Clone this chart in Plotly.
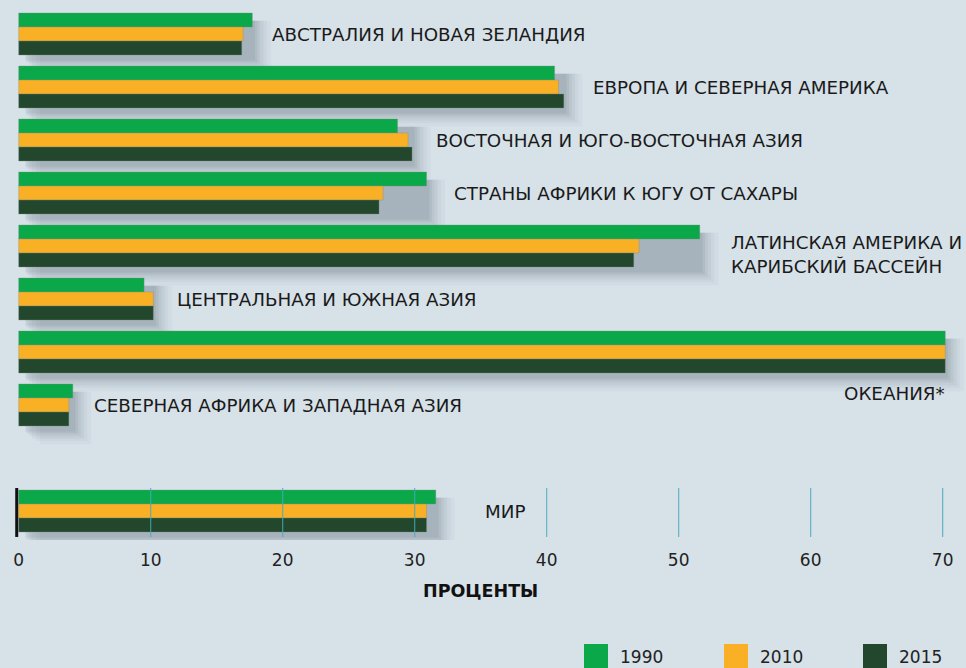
import plotly.graph_objects as go

regions = [
    "АВСТРАЛИЯ И НОВАЯ ЗЕЛАНДИЯ",
    "ЕВРОПА И СЕВЕРНАЯ АМЕРИКА",
    "ВОСТОЧНАЯ И ЮГО-ВОСТОЧНАЯ АЗИЯ",
    "СТРАНЫ АФРИКИ К ЮГУ ОТ САХАРЫ",
    "ЛАТИНСКАЯ АМЕРИКА И<br>КАРИБСКИЙ БАССЕЙН",
    "ЦЕНТРАЛЬНАЯ И ЮЖНАЯ АЗИЯ",
    "ОКЕАНИЯ*",
    "СЕВЕРНАЯ АФРИКА И ЗАПАДНАЯ АЗИЯ",
    "МИР",
]
v1990 = [17.7, 40.6, 28.7, 30.9, 51.6, 9.5, 70.2, 4.1, 31.6]
v2010 = [17.0, 40.9, 29.5, 27.6, 47.0, 10.2, 70.2, 3.8, 30.9]
v2015 = [16.9, 41.3, 29.8, 27.3, 46.6, 10.2, 70.2, 3.8, 30.9]
years = ["1990", "2010", "2015"]
tick_vals = [0, 10, 20, 30, 40, 50, 60, 70]
axis_title = "ПРОЦЕНТЫ"

colors = ["#0ba84a", "#f9b024", "#22472d"]
BG = "#d6e1e8"
FONT = "DejaVu Sans"

# layout positions: 8 regions, then a gap, then world
pos = list(range(len(regions) - 1)) + [len(regions)]
gmax = [max(a, b, c) for a, b, c in zip(v1990, v2010, v2015)]

fig = go.Figure()

# soft drop shadows under each group (stacked translucent layers)
shadow_layers = [(1.4, 1.6, 0.74, 0.03), (1.1, 1.3, 0.68, 0.04), (0.85, 1.0, 0.63, 0.05),
                 (0.6, 0.8, 0.58, 0.06), (0.4, 0.6, 0.54, 0.07), (0.2, 0.5, 0.50, 0.07)]
for dx, x0, extra, a in shadow_layers:
    fig.add_trace(go.Bar(
        y=pos, x=[m + dx - x0 for m in gmax], orientation="h",
        base=x0, offset=-0.25, width=0.25 + extra,
        marker=dict(color=f"rgba(60,70,85,{a})", line=dict(width=0)),
        showlegend=False, hoverinfo="skip"))

offsets = [-0.396, -0.132, 0.132]
for vals, col, name, off in zip([v1990, v2010, v2015], colors, years, offsets):
    fig.add_trace(go.Bar(
        y=pos, x=vals, orientation="h", name=name,
        offset=off, width=0.264,
        marker=dict(color=col, line=dict(width=0.6, color="rgba(120,140,130,0.6)")),
        showlegend=False))

# labels
LBL = dict(family=FONT, size=18.3, color="#1a1a1a")
label_dx = [18, 27, 22, 25, 29, 22, None, 19, 47]
for i, (name, p, m) in enumerate(zip(regions, pos, gmax)):
    if label_dx[i] is None:
        fig.add_annotation(x=m, y=p, text=name, showarrow=False, xanchor="right",
                           yanchor="middle", yshift=-41, xshift=2, font=LBL)
    else:
        ys = -8 if "<br>" in name else 0
        fig.add_annotation(x=m, y=p, text=name, showarrow=False, xanchor="left",
                           yanchor="middle", xshift=label_dx[i], yshift=ys, align="left",
                           font=LBL)

# world grid lines and zero line
wp = pos[-1]
for t in tick_vals[1:]:
    fig.add_shape(type="line", x0=t, x1=t, y0=wp - 0.434, y1=wp + 0.49,
                  line=dict(color="rgba(70,170,190,0.8)", width=1.2), layer="above")
fig.add_shape(type="line", x0=-0.15, x1=-0.15, y0=wp - 0.434, y1=wp + 0.49,
              line=dict(color="#111111", width=3), layer="above")

# axis title
fig.add_annotation(x=480 / 966, y=0, xref="paper", yref="paper", yshift=-63,
                   text="<b>" + axis_title + "</b>", showarrow=False,
                   font=dict(family=FONT, size=17.5, color="#111111"))

# custom legend
W, PB = 966, 540
sq_x = [584, 724, 863]
for x0, col, name in zip(sq_x, colors, years):
    fig.add_shape(type="rect", xref="paper", yref="paper",
                  x0=x0 / W, x1=(x0 + 24) / W,
                  y0=(PB - 644) / PB, y1=(PB - 670) / PB,
                  fillcolor=col, line=dict(width=0))
    fig.add_annotation(xref="paper", yref="paper", x=(x0 + 34) / W, y=(PB - 657) / PB,
                       text=name, showarrow=False, xanchor="left", yanchor="middle",
                       font=dict(family=FONT, size=17, color="#222222"))

fig.update_layout(
    width=966, height=668,
    margin=dict(l=0, r=0, t=0, b=668 - PB),
    paper_bgcolor=BG, plot_bgcolor=BG,
    barmode="overlay",
    xaxis=dict(range=[-1.417, 71.77], tickvals=tick_vals, showgrid=False,
               zeroline=False, showline=False, ticks="",
               tickfont=dict(family=FONT, size=17, color="#222222"),
               ticklabelstandoff=8),
    yaxis=dict(range=[(PB - 34) / 53.0, -34 / 53.0], showticklabels=False,
               showgrid=False, zeroline=False, showline=False),
    font=dict(family=FONT),
)

fig.write_html("out.html", config={"displayModeBar": False},
               post_script="document.body.style.margin='0';document.body.style.overflow='hidden';")
